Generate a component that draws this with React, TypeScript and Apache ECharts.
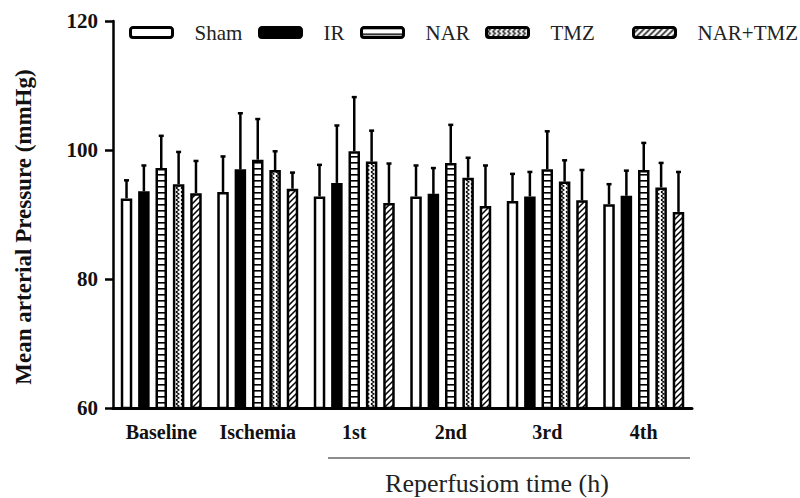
import React, { useEffect, useRef } from "react";
import * as echarts from "echarts";

// ---- data ----
const categories = ["Baseline", "Ischemia", "1st", "2nd", "3rd", "4th"];
const seriesNames = ["Sham", "IR", "NAR", "TMZ", "NAR+TMZ"];
const shamMean = [92.5, 93.5, 92.8, 92.8, 92.1, 91.6];
const shamSD = [2.8, 5.5, 4.9, 4.8, 4.2, 3.1];
const irMean = [93.6, 97.0, 94.9, 93.2, 92.8, 92.9];
const irSD = [4.0, 8.7, 8.9, 4.0, 3.8, 3.9];
const narMean = [97.2, 98.5, 99.8, 98.0, 97.0, 96.9];
const narSD = [5.0, 6.3, 8.4, 5.9, 5.9, 4.2];
const tmzMean = [94.7, 96.9, 98.2, 95.7, 95.1, 94.2];
const tmzSD = [5.0, 2.9, 4.8, 3.1, 3.3, 3.8];
const narTmzMean = [93.3, 94.0, 91.8, 91.3, 92.2, 90.4];
const narTmzSD = [5.0, 2.5, 6.1, 6.3, 4.7, 6.2];
const yTicks = [60, 80, 100, 120];

const means = [shamMean, irMean, narMean, tmzMean, narTmzMean];
const sds = [shamSD, irSD, narSD, tmzSD, narTmzSD];

// ---- layout / style ----
const FONT = "'Liberation Serif', 'Times New Roman', serif";
const BAR_W = 11.5;
const BAR_GAP = 0.51;
const BAR_STEP = BAR_W * (1 + BAR_GAP);
const LEGEND_X = [124, 253, 355, 480, 627];

function makeCanvas(w: number, h: number, draw: (c: CanvasRenderingContext2D) => void) {
  const cv = document.createElement("canvas");
  cv.width = w;
  cv.height = h;
  const ctx = cv.getContext("2d")!;
  ctx.fillStyle = "#fff";
  ctx.fillRect(0, 0, w, h);
  ctx.strokeStyle = "#000";
  draw(ctx);
  return { image: cv, repeat: "repeat", imageWidth: w, imageHeight: h } as any;
}

function buildFills() {
  const horiz = makeCanvas(6, 6, (c) => {
    c.fillStyle = "#000";
    c.fillRect(0, 0, 6, 1.6);
  });
  const wave = makeCanvas(5, 4, (c) => {
    c.lineWidth = 1.2;
    c.beginPath();
    c.moveTo(1, 0);
    c.lineTo(4, 2);
    c.lineTo(1, 4);
    c.stroke();
  });
  const diag = makeCanvas(6, 6, (c) => {
    c.lineWidth = 1.5;
    c.beginPath();
    c.moveTo(0, 6);
    c.lineTo(6, 0);
    c.moveTo(-1, 1);
    c.lineTo(1, -1);
    c.moveTo(5, 7);
    c.lineTo(7, 5);
    c.stroke();
  });
  return ["#ffffff", "#000000", horiz, wave, diag];
}

export default function App() {
  const ref = useRef<HTMLDivElement>(null);
  useEffect(() => {
    if (!ref.current) return;
    const chart = echarts.init(ref.current, null, { renderer: "svg" });
    const fills = buildFills();

    const barSeries = seriesNames.map((name, i) => ({
      type: "bar",
      name,
      data: means[i],
      barWidth: BAR_W,
      barGap: `${BAR_GAP * 100}%`,
      itemStyle: { color: fills[i], borderColor: "#000", borderWidth: 2.5 },
      emphasis: { disabled: true },
      z: 2,
    }));

    const errSeries = seriesNames.map((name, gi) => ({
      type: "custom",
      name: name + " SD",
      silent: true,
      z: 5,
      encode: { x: 0, y: [1, 2] },
      data: means[gi].map((m, ci) => [ci, m, m + sds[gi][ci]]),
      renderItem: (params: any, api: any) => {
        const ci = api.value(0);
        const base = api.coord([ci, api.value(1)]);
        const top = api.coord([ci, api.value(2)]);
        const x = base[0] + (gi - 2) * BAR_STEP;
        return {
          type: "group",
          children: [
            { type: "line", shape: { x1: x, y1: base[1], x2: x, y2: top[1] }, style: { stroke: "#000", lineWidth: 2.5 } },
            { type: "line", shape: { x1: x - 2.5, y1: top[1], x2: x + 2.5, y2: top[1] }, style: { stroke: "#000", lineWidth: 2.5 } },
          ],
        };
      },
    }));

    chart.setOption({
      animation: false,
      backgroundColor: "#fff",
      legend: seriesNames.map((name, i) => ({
        data: [name],
        left: LEGEND_X[i],
        top: 17,
        itemWidth: 42,
        itemHeight: 10,
        icon: "roundRect",
        selectedMode: false,
        itemStyle: { borderWidth: 3, borderColor: "#000" },
        textStyle: { fontFamily: FONT, fontSize: 21, color: "#222", padding: [0, 0, 0, 17] },
      })),
      grid: { left: 113, right: 108, top: 21, bottom: 90 },
      xAxis: {
        type: "category",
        data: categories,
        axisLine: { lineStyle: { color: "#000", width: 3 } },
        axisTick: { alignWithLabel: true, length: 7, lineStyle: { color: "#000", width: 2.5 } },
        axisLabel: { interval: 0, fontFamily: FONT, fontWeight: "bold", fontSize: 20, color: "#111", margin: 14 },
      },
      yAxis: {
        type: "value",
        min: yTicks[0],
        max: yTicks[yTicks.length - 1],
        interval: yTicks[1] - yTicks[0],
        splitLine: { show: false },
        axisLine: { show: true, lineStyle: { color: "#000", width: 2.5 } },
        axisTick: { show: true, length: 8, lineStyle: { color: "#000", width: 2.5 } },
        axisLabel: { fontFamily: FONT, fontWeight: "bold", fontSize: 21, color: "#111", margin: 15 },
      },
      graphic: [
        {
          type: "text",
          x: 23,
          y: 227,
          rotation: Math.PI / 2,
          style: {
            text: "Mean arterial Pressure (mmHg)",
            fontFamily: FONT,
            fontWeight: "bold",
            fontSize: 23,
            fill: "#111",
            textAlign: "center",
            textVerticalAlign: "middle",
          },
        },
        {
          type: "line",
          shape: { x1: 328, y1: 458, x2: 690, y2: 458 },
          style: { stroke: "#666", lineWidth: 1.3 },
        },
        {
          type: "text",
          x: 497,
          y: 483,
          style: {
            text: "Reperfusiom time (h)",
            fontFamily: FONT,
            fontSize: 26,
            fill: "#222",
            textAlign: "center",
            textVerticalAlign: "middle",
          },
        },
      ],
      series: [...barSeries, ...errSeries],
    });
    return () => chart.dispose();
  }, []);
  return <div ref={ref} style={{ width: 800, height: 498, position: "absolute", left: 0, top: 0 }} />;
}
